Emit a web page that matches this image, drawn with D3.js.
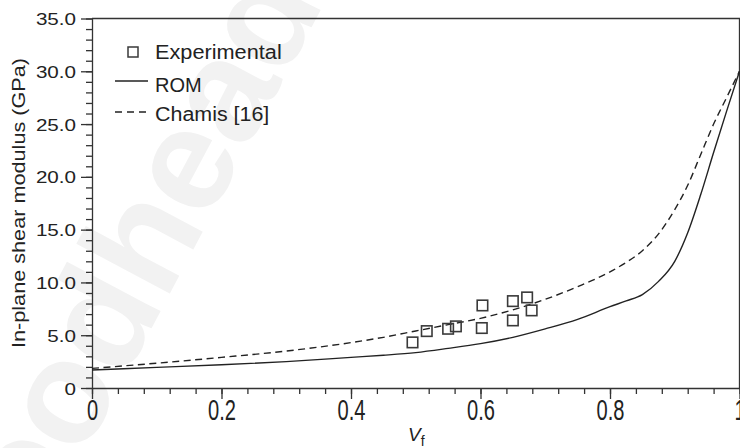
<!DOCTYPE html>
<html>
<head>
<meta charset="utf-8">
<script src="https://cdn.jsdelivr.net/npm/d3@7"></script>
<style>
  html, body { margin: 0; padding: 0; background: #fff; }
  svg { display: block; }
  text { font-family: "Liberation Sans", Arial, Helvetica, sans-serif; fill: #222; }
</style>
</head>
<body>
<svg id="chart" width="740" height="448"></svg>
<script>
// Fibre volume fraction grid for the model curves
const vfGrid   = [0, 0.1, 0.2, 0.3, 0.4, 0.45, 0.5, 0.55, 0.6, 0.65, 0.7, 0.75, 0.8, 0.825, 0.85, 0.875, 0.9, 0.92, 0.94, 0.96, 0.98, 1.0];
// Rule-of-mixtures prediction (GPa)
const romG     = [1.70, 1.95, 2.2, 2.5, 2.9, 3.1, 3.35, 3.75, 4.2, 4.8, 5.6, 6.5, 7.7, 8.25, 8.85, 10.1, 12.0, 14.7, 18.3, 22.3, 26.2, 30.0];
// Chamis micromechanics prediction (GPa)
const chamisG  = [1.86, 2.35, 2.9, 3.5, 4.3, 4.8, 5.4, 6.0, 6.6, 7.4, 8.4, 9.6, 11.0, 11.9, 13.0, 14.6, 16.9, 19.2, 22.1, 25.0, 27.5, 30.0];
// Measured specimens
const expVf    = [0.495, 0.517, 0.550, 0.562, 0.603, 0.602, 0.650, 0.650, 0.672, 0.679];
const expG     = [4.32, 5.39, 5.61, 5.84, 7.82, 5.68, 8.23, 6.40, 8.58, 7.35];
// Axis ticks
const xTicks   = [0, 0.2, 0.4, 0.6, 0.8, 1];
const xTickLabels = ["0", "0.2", "0.4", "0.6", "0.8", "1"];
const yTicks   = [0, 5, 10, 15, 20, 25, 30, 35];
const yTickLabels = ["0", "5.0", "10.0", "15.0", "20.0", "25.0", "30.0", "35.0"];
const legendLabels = ["Experimental", "ROM", "Chamis [16]"];

const svg = d3.select("#chart");
const ink = "#222";
const axisInk = "#333";

// Faint publisher mark behind the plot
svg.append("text")
  .attr("transform", "translate(-24,658) rotate(-62)")
  .style("font-size", "146px").style("font-weight", "bold")
  .style("fill", "#f2f2f2")
  .text("Woodhead Publishing");

const plotLeft = 92, plotRight = 739.5, plotTop = 18.5, plotBottom = 388;
const x = d3.scaleLinear().domain([0, 1]).range([plotLeft, plotRight]);
const y = d3.scaleLinear().domain([0, 35]).range([plotBottom, plotTop]);

// Frame: top and right edges
svg.append("path")
  .attr("d", `M${plotLeft},${plotTop}H${x(1)}V${plotBottom}`)
  .attr("fill", "none").attr("stroke", axisInk).attr("stroke-width", 1.3);

// Minor ticks
const xMinor = d3.range(0, 1.0001, 0.04).map(v => +v.toFixed(2));
const yMinor = d3.range(0, 35.0001, 1);
svg.append("g").attr("transform", `translate(0,${plotBottom})`)
  .call(d3.axisBottom(x).tickValues(xMinor).tickSize(6).tickFormat(""))
  .call(g => g.select(".domain").remove())
  .call(g => g.selectAll("line").attr("stroke", axisInk).attr("stroke-width", 1.3));
svg.append("g").attr("transform", `translate(${plotLeft},0)`)
  .call(d3.axisLeft(y).tickValues(yMinor).tickSize(6).tickFormat(""))
  .call(g => g.select(".domain").remove())
  .call(g => g.selectAll("line").attr("stroke", axisInk).attr("stroke-width", 1.3));

// Major x axis
const gx = svg.append("g").attr("transform", `translate(0,${plotBottom})`)
  .call(d3.axisBottom(x).tickValues(xTicks).tickSize(11).tickSizeOuter(0)
    .tickFormat((d, i) => xTickLabels[i]));
gx.select(".domain").attr("stroke", axisInk).attr("stroke-width", 1.3);
gx.selectAll("line").attr("stroke", axisInk).attr("stroke-width", 1.3);
gx.selectAll("text")
  .attr("y", 0).attr("dy", null)
  .attr("transform", "translate(0,32) scale(0.67,1)")
  .style("font-size", "30px").attr("fill", ink);

// Major y axis
const gy = svg.append("g").attr("transform", `translate(${plotLeft},0)`)
  .call(d3.axisLeft(y).tickValues(yTicks).tickSize(11).tickSizeOuter(0)
    .tickFormat((d, i) => yTickLabels[i]));
gy.select(".domain").attr("stroke", axisInk).attr("stroke-width", 1.3);
gy.selectAll("line").attr("stroke", axisInk).attr("stroke-width", 1.3);
gy.selectAll("text")
  .attr("x", 0).attr("dy", null).attr("y", 0)
  .attr("transform", "translate(-16,6) scale(1.25,1)")
  .style("font-size", "16.5px").attr("fill", ink);

// Axis titles
svg.append("text")
  .attr("transform", "translate(25,203) rotate(-90)")
  .attr("text-anchor", "middle")
  .attr("textLength", 290).attr("lengthAdjust", "spacingAndGlyphs")
  .style("font-size", "18px")
  .text("In-plane shear modulus (GPa)");
const xt = svg.append("text")
  .attr("x", 408).attr("y", 441)
  .style("font-size", "19px");
xt.append("tspan").style("font-style", "italic").text("V");
xt.append("tspan").attr("dy", 5).style("font-size", "14px").text("f");

// Model curves
const rom = vfGrid.map((v, i) => [v, romG[i]]);
const chamis = vfGrid.map((v, i) => [v, chamisG[i]]);
const line = d3.line().x(d => x(d[0])).y(d => y(d[1])).curve(d3.curveMonotoneX);
svg.append("path").datum(rom)
  .attr("d", line).attr("fill", "none")
  .attr("stroke", ink).attr("stroke-width", 1.4);
svg.append("path").datum(chamis)
  .attr("d", line).attr("fill", "none")
  .attr("stroke", ink).attr("stroke-width", 1.4)
  .attr("stroke-dasharray", "7,4.5");

// Experimental points
const sq = 10.5;
svg.append("g").selectAll("rect")
  .data(expVf.map((v, i) => [v, expG[i]]))
  .join("rect")
  .attr("x", d => x(d[0]) - sq / 2).attr("y", d => y(d[1]) - sq / 2)
  .attr("width", sq).attr("height", sq)
  .attr("fill", "none").attr("stroke", "#3a3a3a").attr("stroke-width", 1.6);

// Legend
const lg = svg.append("g");
lg.append("rect").attr("x", 128).attr("y", 47).attr("width", 10).attr("height", 10)
  .attr("fill", "none").attr("stroke", "#3a3a3a").attr("stroke-width", 1.5);
lg.append("line").attr("x1", 115).attr("x2", 148).attr("y1", 81).attr("y2", 81)
  .attr("stroke", ink).attr("stroke-width", 1.4);
lg.append("line").attr("x1", 115).attr("x2", 148).attr("y1", 112).attr("y2", 112)
  .attr("stroke", ink).attr("stroke-width", 1.4).attr("stroke-dasharray", "7,5");
const legendY = [59.3, 91.7, 120.7];
const legendW = [126.7, 46.7, 114.3];
lg.selectAll("text.lab").data(legendLabels).join("text")
  .attr("class", "lab")
  .attr("x", 155).attr("y", (d, i) => legendY[i])
  .attr("textLength", (d, i) => legendW[i]).attr("lengthAdjust", "spacingAndGlyphs")
  .style("font-size", "20px")
  .text(d => d);
</script>
</body>
</html>
